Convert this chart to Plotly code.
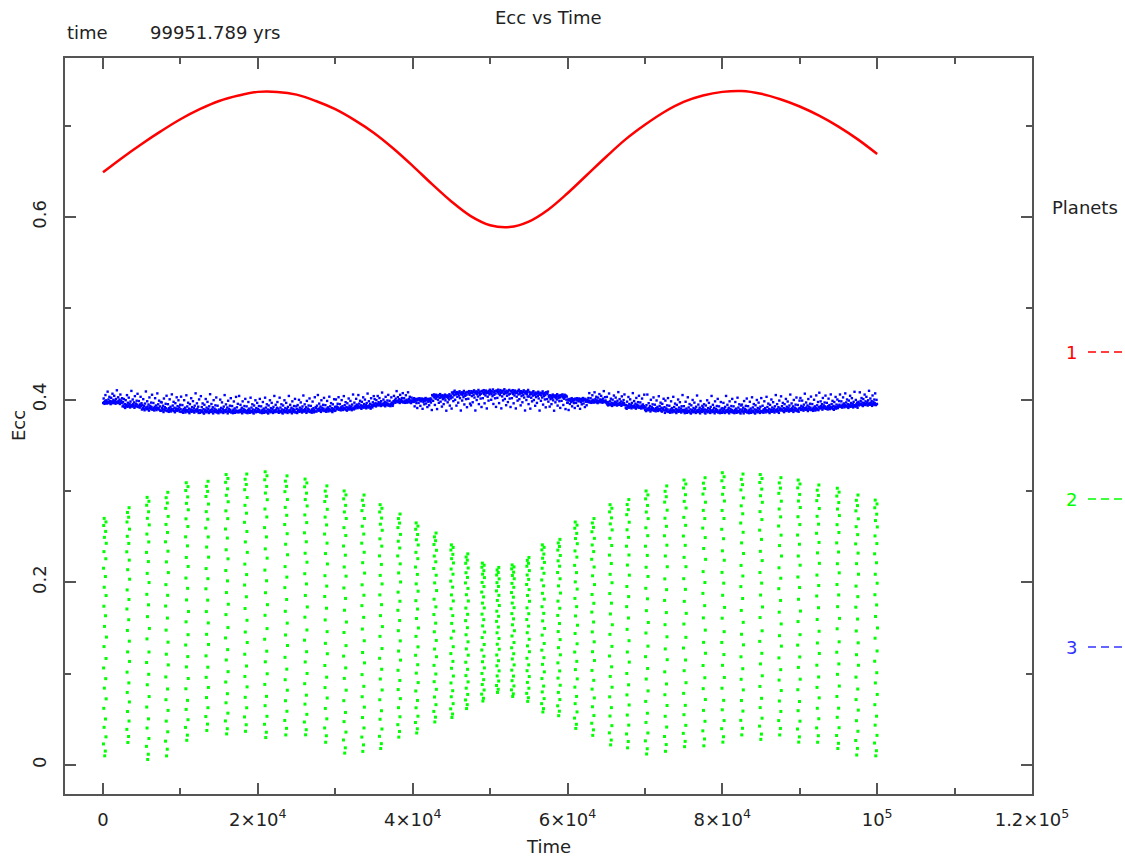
import plotly.graph_objects as go

# ---- planet 1: smooth secular eccentricity curve ----
RED_T = [0, 2500, 5000, 7500, 10000, 12500, 15000, 17500, 20000, 22500, 25000,
         27500, 30000, 32500, 35000, 37500, 40000, 42500, 45000, 47500, 50000,
         52500, 55000, 57500, 60000, 62500, 65000, 67500, 70000, 72500, 75000,
         77500, 80000, 82500, 85000, 87500, 90000, 92500, 95000, 97500, 100000]
RED_E = [0.649, 0.665, 0.680, 0.694, 0.707, 0.718, 0.727, 0.733, 0.737, 0.737, 0.734,
         0.727, 0.718, 0.706, 0.692, 0.675, 0.656, 0.636, 0.617, 0.601, 0.591,
         0.589, 0.595, 0.608, 0.626, 0.646, 0.666, 0.685, 0.701, 0.715, 0.726,
         0.733, 0.737, 0.738, 0.735, 0.729, 0.721, 0.711, 0.699, 0.685, 0.669]

# ---- planet 2: sampled bursts (one column of points per burst) ----
GREEN_T = [250, 3250, 5800, 8250, 10850, 13450, 16000, 18450, 21050, 23650, 26200,
           28800, 31250, 33600, 35900, 38250, 40550, 42900, 45100, 47000, 49100,
           51000, 52950, 54900, 56850, 58900, 61100, 63300, 65600, 67800, 70250,
           72700, 75150, 77650, 80100, 82550, 85000, 87450, 89900, 92350, 94950,
           97400, 99850]
GREEN_TOP = [0.270, 0.283, 0.293, 0.300, 0.309, 0.312, 0.318, 0.320, 0.321, 0.318,
             0.313, 0.307, 0.300, 0.297, 0.285, 0.276, 0.265, 0.255, 0.241, 0.232,
             0.221, 0.217, 0.219, 0.228, 0.241, 0.248, 0.266, 0.271, 0.285, 0.292,
             0.300, 0.307, 0.312, 0.316, 0.320, 0.320, 0.318, 0.316, 0.312, 0.308,
             0.303, 0.297, 0.290]
GREEN_BOT = [0.010, 0.022, 0.006, 0.007, 0.027, 0.035, 0.034, 0.034, 0.030, 0.030,
             0.033, 0.022, 0.013, 0.012, 0.018, 0.028, 0.035, 0.045, 0.052, 0.060,
             0.070, 0.078, 0.075, 0.068, 0.058, 0.052, 0.040, 0.030, 0.022, 0.016,
             0.012, 0.012, 0.020, 0.018, 0.025, 0.030, 0.028, 0.030, 0.025, 0.022,
             0.018, 0.008, 0.010]
# level of each point inside a burst (0 = burst minimum, 1 = burst maximum),
# two interleaved orderings used on alternate bursts
LEVELS_A = [1.0, 0.985, 0.97, 0.945, 0.92, 0.895, 0.86, 0.83, 0.79, 0.755, 0.71,
            0.675, 0.63, 0.59, 0.545, 0.50, 0.46, 0.41, 0.37, 0.325, 0.285, 0.24,
            0.20, 0.155, 0.12, 0.08, 0.05, 0.02, 0.0]
LEVELS_B = [0.995, 0.975, 0.955, 0.935, 0.905, 0.875, 0.845, 0.81, 0.775, 0.735,
            0.695, 0.65, 0.61, 0.57, 0.525, 0.48, 0.435, 0.39, 0.35, 0.305, 0.26,
            0.22, 0.18, 0.14, 0.10, 0.065, 0.035, 0.01]
# time offset of each point inside a burst (yr)
SHIFT_A = [-100, 130, -160, 90, -70, 170, -130, 110, -180, 60, -90, 150, -140, 80,
           -60, 190, -120, 140, -170, 100, -80, 160, -150, 70, -110, 130, -190, 50, -30]
SHIFT_B = [120, -90, 60, -150, 170, -110, 80, -180, 140, -60, 190, -130, 100, -160,
           70, -100, 150, -70, 180, -140, 90, -120, 160, -80, 110, -170, 50, -40]

# ---- planet 3: narrow band; dense edge (core) and scattered edge (far) per 2500 yr ----
BLUE_CORE = [0.396, 0.392, 0.389, 0.3875, 0.3865, 0.386, 0.386, 0.386, 0.386, 0.386,
             0.3865, 0.3875, 0.389, 0.391, 0.3935, 0.397, 0.401, 0.405, 0.4085, 0.4095,
             0.410, 0.4095, 0.408, 0.405, 0.401, 0.397, 0.394, 0.391, 0.388, 0.3865,
             0.386, 0.386, 0.386, 0.386, 0.3865, 0.3875, 0.3885, 0.390, 0.392, 0.394]
BLUE_FAR = [0.411, 0.4105, 0.410, 0.409, 0.408, 0.407, 0.406, 0.405, 0.405, 0.405,
            0.4055, 0.406, 0.4065, 0.4075, 0.4085, 0.410, 0.388, 0.387, 0.387, 0.387,
            0.387, 0.387, 0.387, 0.387, 0.388, 0.410, 0.409, 0.408, 0.4065, 0.406,
            0.4055, 0.405, 0.405, 0.4055, 0.406, 0.4065, 0.4075, 0.4085, 0.4095, 0.4105]
BAND_SPREAD = [0.02, 0.35, 0.08, -0.04, 0.15, 0.6, 0.05, 0.22, -0.02, 0.11, 0.85, 0.03,
               0.28, 0.09, 0.47, 0.0, 0.17, -0.06, 0.4, 0.06, 0.13, 0.7, 0.01, 0.25,
               0.1, 0.55, 0.04, 0.19, -0.03, 0.32, 0.07, 0.95, 0.12, 0.02, 0.44, 0.16,
               0.05, 0.27, -0.05, 0.64, 0.09, 0.2, 0.03, 0.37, 0.14, 0.78, 0.0]
BAND_WINDOW = 2500
BAND_SAMPLES = 44

X_TICKS = [0, 20000, 40000, 60000, 80000, 100000, 120000]
X_TICK_TEXT = ["0", "2×10<sup>4</sup>", "4×10<sup>4</sup>", "6×10<sup>4</sup>",
               "8×10<sup>4</sup>", "10<sup>5</sup>", "1.2×10<sup>5</sup>"]
Y_TICKS = [0, 0.2, 0.4, 0.6]
Y_TICK_TEXT = ["0", "0.2", "0.4", "0.6"]

PLANETS = ["1", "2", "3"]
PLANET_COLORS = ["#ff0000", "#00ff00", "#3333ff"]

FONT = "DejaVu Sans"
INK = "#222222"
AXIS = "#555555"

# build point clouds
green_x, green_y = [], []
for k, (t, top, bot) in enumerate(zip(GREEN_T, GREEN_TOP, GREEN_BOT)):
    levels, shifts = (LEVELS_A, SHIFT_A) if k % 2 == 0 else (LEVELS_B, SHIFT_B)
    for f, dx in zip(levels, shifts):
        green_x.append(t + dx)
        green_y.append(bot + f * (top - bot))

blue_x, blue_y = [], []
n_spread = len(BAND_SPREAD)
for k, (core, far) in enumerate(zip(BLUE_CORE, BLUE_FAR)):
    t0 = k * BAND_WINDOW
    for i in range(BAND_SAMPLES):
        f = BAND_SPREAD[(i + 11 * k) % n_spread]
        blue_x.append(t0 + (i + 0.5) * BAND_WINDOW / BAND_SAMPLES)
        blue_y.append(core + f * (far - core))

fig = go.Figure()
fig.add_trace(go.Scatter(x=RED_T, y=RED_E, mode="lines",
                         line=dict(color="#ff0000", width=2.5, shape="spline"),
                         showlegend=False, hoverinfo="skip"))
fig.add_trace(go.Scatter(x=green_x, y=green_y, mode="markers",
                         marker=dict(color="#00ff00", size=3, symbol="square",
                                     line=dict(width=0)),
                         showlegend=False, hoverinfo="skip"))
fig.add_trace(go.Scatter(x=blue_x, y=blue_y, mode="markers",
                         marker=dict(color="#0000ff", size=2.4, symbol="square",
                                     line=dict(width=0)),
                         showlegend=False, hoverinfo="skip"))

W, H = 1125, 858
L, R, T, B = 65, 1032, 58, 794


def px(xp):
    return (xp - L) / (R - L)


def py(yp):
    return (B - yp) / (B - T)


annotations = [
    dict(text="Ecc vs Time", x=0.5, y=py(17)),
    dict(text="time", x=px(65), y=py(33), xanchor="left"),
    dict(text="99951.789 yrs", x=px(148), y=py(33), xanchor="left"),
    dict(text="Time", x=0.5, y=py(847)),
    dict(text="Ecc", x=px(18), y=0.5, textangle=-90),
    dict(text="Planets", x=px(1050), y=py(207), xanchor="left"),
]
legend_rows = [352, 499, 647]
shapes = []
for name, color, yr in zip(PLANETS, PLANET_COLORS, legend_rows):
    annotations.append(dict(text=name, x=px(1079), y=py(yr), xanchor="right",
                            font=dict(family=FONT, size=18, color=color)))
    shapes.append(dict(type="line", xref="paper", yref="paper",
                       x0=px(1088), x1=px(1140), y0=py(yr), y1=py(yr),
                       line=dict(color=color, width=1.5, dash="8px,5px")))

for a in annotations:
    a.setdefault("font", dict(family=FONT, size=18, color=INK))
    a.update(xref="paper", yref="paper", showarrow=False, yanchor="middle")
    a.setdefault("xanchor", "center")

axis_common = dict(showline=True, linecolor=AXIS, linewidth=2, mirror="allticks",
                   ticks="inside", ticklen=11, tickwidth=1.5, tickcolor=AXIS,
                   showgrid=False, zeroline=False,
                   tickfont=dict(family=FONT, size=18, color=INK))

fig.update_layout(
    width=W, height=H,
    margin=dict(l=L, r=W - R, t=T, b=H - B, pad=0),
    paper_bgcolor="white", plot_bgcolor="white",
    showlegend=False,
    xaxis=dict(range=[-4909, 120000], tickvals=X_TICKS, ticktext=X_TICK_TEXT,
               ticklabelstandoff=8,
               minor=dict(ticks="inside", ticklen=6, tickwidth=1.5, tickcolor=AXIS,
                          tickvals=[10000, 30000, 50000, 70000, 90000, 110000]),
               **axis_common),
    yaxis=dict(range=[-0.0318, 0.7741], tickvals=Y_TICKS, ticktext=Y_TICK_TEXT,
               tickangle=-90, ticklabelstandoff=10,
               minor=dict(ticks="inside", ticklen=6, tickwidth=1.5, tickcolor=AXIS,
                          tickvals=[0.1, 0.3, 0.5, 0.7]),
               **axis_common),
    annotations=annotations,
    shapes=shapes,
)

fig.write_html("out.html")
